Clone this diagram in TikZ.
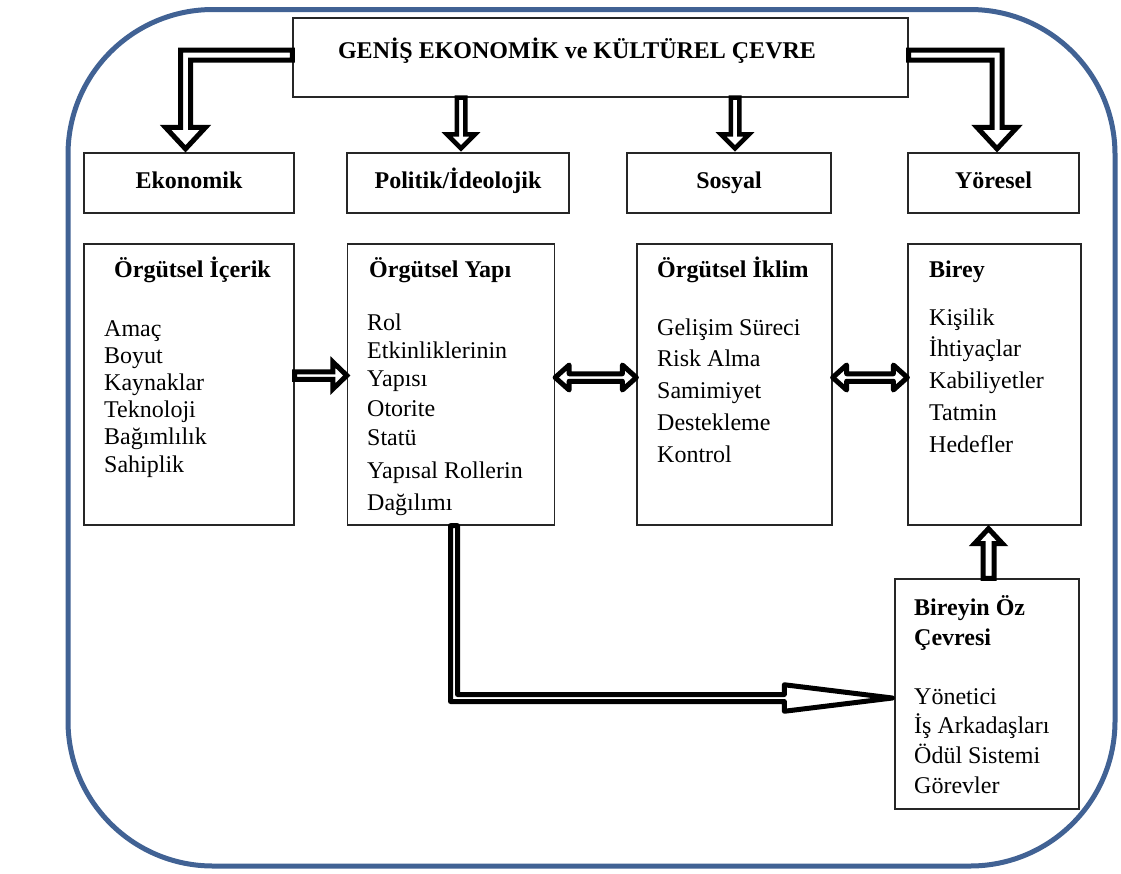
\documentclass[tikz,border=0pt]{standalone}
\usepackage{fontspec}
\setmainfont{Liberation Serif}
\usetikzlibrary{calc}

% hollow (outlined) block arrow from #2 to #3: shaft half width #4, head half width #5, head length #6
\newcommand\hollowarrow[6]{%
  \path (#2) coordinate (ha-t) (#3) coordinate (ha-e);
  \path ($(ha-e)!#6!(ha-t)$) coordinate (ha-b);
  \draw[#1] ($(ha-t)!#4!90:(ha-e)$) -- ($(ha-b)!#4!90:(ha-e)$) -- ($(ha-b)!#5!90:(ha-e)$)
    -- (ha-e) -- ($(ha-b)!#5!-90:(ha-e)$) -- ($(ha-b)!#4!-90:(ha-e)$)
    -- ($(ha-t)!#4!-90:(ha-e)$) -- cycle;}
% same, with a head at both ends
\newcommand\hollowdouble[6]{%
  \path (#2) coordinate (ha-t) (#3) coordinate (ha-e);
  \path ($(ha-e)!#6!(ha-t)$) coordinate (ha-b) ($(ha-t)!#6!(ha-e)$) coordinate (ha-c);
  \draw[#1] (ha-t) -- ($(ha-c)!#5!90:(ha-e)$) -- ($(ha-c)!#4!90:(ha-e)$)
    -- ($(ha-b)!#4!90:(ha-e)$) -- ($(ha-b)!#5!90:(ha-e)$) -- (ha-e)
    -- ($(ha-b)!#5!-90:(ha-e)$) -- ($(ha-b)!#4!-90:(ha-e)$)
    -- ($(ha-c)!#4!-90:(ha-e)$) -- ($(ha-c)!#5!-90:(ha-e)$) -- cycle;}

\definecolor{frameblue}{RGB}{65,98,148}

\tikzset{
  box/.style={draw=black!85, line width=1.3pt, fill=white, inner sep=0pt},
  hollow/.style={draw=black, fill=white, line width=5pt, line join=miter},
  hollowround/.style={draw=black, fill=white, line width=5pt, line join=round},
  txt/.style={inner sep=0pt, anchor=base west, font=\fontsize{24}{28}\selectfont},
  hdr/.style={inner sep=0pt, anchor=base west, font=\fontsize{24}{28}\selectfont\bfseries},
}

\begin{document}
\begin{tikzpicture}[x=1pt,y=-1pt]
\useasboundingbox (0,0) rectangle (1121,873);
\fill[white] (0,0) rectangle (1121,873);

% outer frame
\draw[frameblue, line width=5pt, rounded corners=145pt] (68,9.5) rectangle (1115,866);

% boxes
\node[box, minimum width=615, minimum height=79] (genis) at (600.5,57.5) {};
\node[box, minimum width=210, minimum height=60] (eko) at (189,183) {};
\node[box, minimum width=222, minimum height=60] (pol) at (458,183) {};
\node[box, minimum width=204, minimum height=60] (sos) at (729,183) {};
\node[box, minimum width=171, minimum height=60] (yor) at (993.5,183) {};
\node[box, minimum width=210, minimum height=281] (icerik) at (189,384.5) {};
\node[box, minimum width=207, minimum height=281] (yapi) at (451,384.5) {};
\node[box, minimum width=195, minimum height=281] (iklim) at (734.5,384.5) {};
\node[box, minimum width=173, minimum height=281] (birey) at (994.5,384.5) {};
\node[box, minimum width=184, minimum height=230] (oz) at (987,694) {};

% titles
\node[hdr, anchor=base] (t-genis) at (577,58) {GENİŞ EKONOMİK ve KÜLTÜREL ÇEVRE};
\node[hdr, anchor=base] (t-eko) at (eko.center |- 0,188) {Ekonomik};
\node[hdr, anchor=base] (t-pol) at (pol.center |- 0,188) {Politik/İdeolojik};
\node[hdr, anchor=base] (t-sos) at (sos.center |- 0,188) {Sosyal};
\node[hdr, anchor=base] (t-yor) at (yor.center |- 0,188) {Yöresel};

% box contents
\node[hdr, anchor=base] (h-icerik) at (192.5,277) {Örgütsel İçerik};
\foreach \t [count=\i] in {Amaç,Boyut,Kaynaklar,Teknoloji,Bağımlılık,Sahiplik}
  \node[txt] (icerik-\i) at (104,{336+27.2*(\i-1)}) {\t};

\node[hdr] (h-yapi) at (369,277) {Örgütsel Yapı};
\foreach \yy/\t [count=\i] in {330/Rol,358/Etkinliklerinin,386/Yapısı,416/Otorite,445/Statü,478/Yapısal Rollerin,510/Dağılımı}
  \node[txt] (yapi-\i) at (367,\yy) {\t};

\node[hdr] (h-iklim) at (657,277) {Örgütsel İklim};
\foreach \t [count=\i] in {Gelişim Süreci,Risk Alma,Samimiyet,Destekleme,Kontrol}
  \node[txt] (iklim-\i) at (657,{335+31.75*(\i-1)}) {\t};

\node[hdr] (h-birey) at (929,277) {Birey};
\foreach \t [count=\i] in {Kişilik,İhtiyaçlar,Kabiliyetler,Tatmin,Hedefler}
  \node[txt] (birey-\i) at (929,{325+31.75*(\i-1)}) {\t};

\node[hdr] (h-oz1) at (914,615) {Bireyin Öz};
\node[hdr] (h-oz2) at (914,645) {Çevresi};
\foreach \t [count=\i] in {Yönetici,İş Arkadaşları,Ödül Sistemi,Görevler}
  \node[txt] (oz-\i) at (914,{704+29.7*(\i-1)}) {\t};

% bent arrows from the top box to the outer columns
\draw[hollow] let \p1=(genis.west), \p2=(eko.north) in
  (\x1,\y1+7.5pt) -- (\x2-8.5pt,\y1+7.5pt) -- (\x2-8.5pt,\y2+25pt) -- (\x2-23.5pt,\y2+25pt)
  -- (\x2-3.5pt,\y2+3.5pt) -- (\x2+16.5pt,\y2+25pt) -- (\x2+1.5pt,\y2+25pt)
  -- (\x2+1.5pt,\y1-2.5pt) -- (\x1,\y1-2.5pt) -- cycle;
\draw[hollow] let \p1=(genis.east), \p2=(yor.north) in
  (\x1,\y1+7.5pt) -- (\x2+8.5pt,\y1+7.5pt) -- (\x2+8.5pt,\y2+25pt) -- (\x2+23.5pt,\y2+25pt)
  -- (\x2+3.5pt,\y2+3.5pt) -- (\x2-16.5pt,\y2+25pt) -- (\x2-1.5pt,\y2+25pt)
  -- (\x2-1.5pt,\y1-2.5pt) -- (\x1,\y1-2.5pt) -- cycle;

% straight arrows from the top box to the middle columns
\coordinate (pol-in) at ([xshift=3pt,yshift=4pt]pol.north);
\coordinate (sos-in) at ([xshift=6pt,yshift=4pt]sos.north);
\hollowarrow{hollow, line width=4.5pt}{pol-in |- genis.south}{pol-in}{4.25pt}{14pt}{14pt}
\hollowarrow{hollow, line width=4.5pt}{sos-in |- genis.south}{sos-in}{4.25pt}{14pt}{14pt}

% arrows between the lower boxes
\coordinate (ic-out) at ([yshift=9pt]icerik.east);
\hollowarrow{hollow}{ic-out}{ic-out -| yapi.west}{3.75pt}{13.5pt}{14pt}
\coordinate (ya-out) at ([yshift=7pt]yapi.east);
\hollowdouble{hollowround}{ya-out}{ya-out -| iklim.west}{3.75pt}{12.5pt}{14pt}
\coordinate (ik-out) at ([yshift=7pt]iklim.east);
\hollowdouble{hollowround}{ik-out}{ik-out -| birey.west}{3.75pt}{12.5pt}{14pt}

% from the individual's own surroundings up to the individual
\coordinate (oz-out) at ([xshift=1.5pt]oz.north);
\coordinate (birey-in) at ([yshift=-3pt]oz-out |- birey.south);
\hollowarrow{hollow}{oz-out}{birey-in}{5.5pt}{14pt}{15pt}

% long bent arrow from the structure box to the own surroundings box
\draw[hollowround] let \p1=(yapi.south), \p2=(oz.west) in
  (\x1-0.5pt,\y1) -- (\x1-0.5pt,\y2-7.5pt) -- (\x2-110pt,\y2-7.5pt) -- (\x2-110pt,\y2-17.25pt)
  -- (\x2-2pt,\y2-4pt) -- (\x2-110pt,\y2+9.25pt) -- (\x2-110pt,\y2-0.5pt)
  -- (\x1+6.5pt,\y2-0.5pt) -- (\x1+6.5pt,\y1) -- cycle;
\end{tikzpicture}
\end{document}
